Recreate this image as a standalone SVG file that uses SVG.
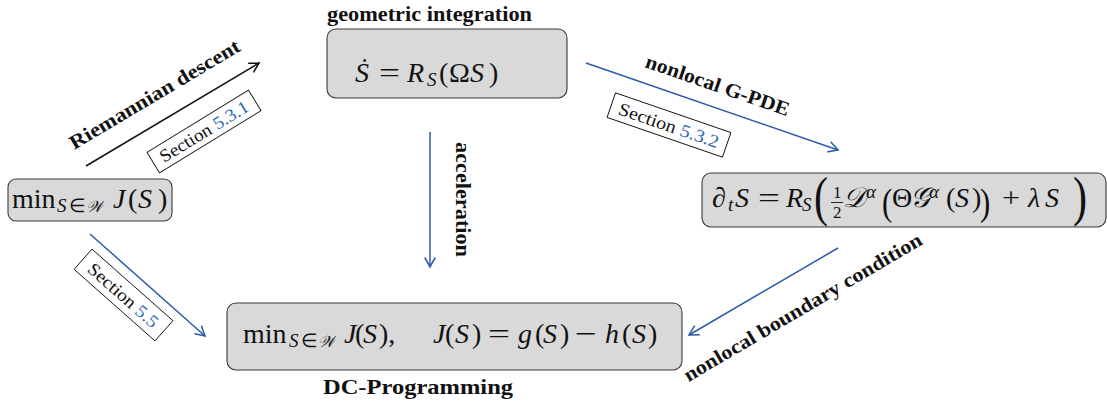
<svg xmlns="http://www.w3.org/2000/svg" width="1107" height="403" viewBox="0 0 1107 403">
<style>
  .box{fill:#d9d9d9;stroke:#3a3a3a;stroke-width:1.1}
  .math{font-family:"Liberation Serif",serif;font-size:28px;fill:#111}
  .it{font-style:italic}
  .sc{font-size:19px}
  .fr{font-size:17px}
  .cal{font-family:"DejaVu Serif",serif;font-style:italic}
  .calsub{font-size:16px}
  .lbl{font-family:"Liberation Serif",serif;font-weight:bold;font-size:20px;fill:#111}
  .sec{font-family:"Liberation Serif",serif;font-size:18px;fill:#111}
  .num{fill:#2e67b8}
  .tag{fill:#fff;stroke:#111;stroke-width:0.9}
  .edge{fill:none;stroke-width:1.5}
  .blue{stroke:#2c5aa8}
  .black{stroke:#111}
</style>
<defs>
  <marker id="headBlue" markerUnits="userSpaceOnUse" markerWidth="14" markerHeight="14" viewBox="-11 -7 14 14" refX="0" refY="0" orient="auto" overflow="visible">
    <path d="M -9 -5 Q -3 -1.5 0 0 Q -3 1.5 -9 5" fill="none" stroke="#2c5aa8" stroke-width="1.5" stroke-linecap="round"/>
  </marker>
  <marker id="headBlack" markerUnits="userSpaceOnUse" markerWidth="14" markerHeight="14" viewBox="-11 -7 14 14" refX="0" refY="0" orient="auto" overflow="visible">
    <path d="M -9 -5 Q -3 -1.5 0 0 Q -3 1.5 -9 5" fill="none" stroke="#111" stroke-width="1.5" stroke-linecap="round"/>
  </marker>
</defs>

<!-- connectors with their labels -->
<g id="connectors">
  <path class="edge black" d="M86 166 L259 63" marker-end="url(#headBlack)"/>
  <path class="edge blue" d="M586 63 L838 150" marker-end="url(#headBlue)"/>
  <path class="edge blue" d="M430 132 L430 267" marker-end="url(#headBlue)"/>
  <path class="edge blue" d="M90 234 L205 336" marker-end="url(#headBlue)"/>
  <path class="edge blue" d="M838 248 L689 335" marker-end="url(#headBlue)"/>

  <text class="lbl" transform="translate(158,100) rotate(-30.8)" text-anchor="middle" textLength="195" lengthAdjust="spacingAndGlyphs">Riemannian descent</text>
  <text class="lbl" transform="translate(715.5,91.5) rotate(19)" text-anchor="middle" textLength="151" lengthAdjust="spacingAndGlyphs">nonlocal G-PDE</text>
  <text class="lbl" transform="translate(456,199.5) rotate(90)" text-anchor="middle" textLength="115" lengthAdjust="spacingAndGlyphs">acceleration</text>
  <text class="lbl" transform="translate(806,313) rotate(-30.5)" text-anchor="middle" textLength="273" lengthAdjust="spacingAndGlyphs">nonlocal boundary condition</text>

  <g transform="translate(204,131.5) rotate(-31.5)">
    <rect class="tag" x="-59.5" y="-12" width="119" height="24"/>
    <text class="sec" x="0" y="6" text-anchor="middle" textLength="101" lengthAdjust="spacingAndGlyphs">Section <tspan class="num">5.3.1</tspan></text>
  </g>
  <g transform="translate(669,125) rotate(19)">
    <rect class="tag" x="-61" y="-13" width="122" height="26"/>
    <text class="sec" x="0" y="6.5" text-anchor="middle" textLength="105" lengthAdjust="spacingAndGlyphs">Section <tspan class="num">5.3.2</tspan></text>
  </g>
  <g transform="translate(123.5,295) rotate(41.5)">
    <rect class="tag" x="-54" y="-13.5" width="108" height="27"/>
    <text class="sec" x="0" y="6.5" text-anchor="middle" textLength="88" lengthAdjust="spacingAndGlyphs">Section <tspan class="num">5.5</tspan></text>
  </g>
</g>

<!-- variational problem -->
<g id="objective">
  <rect class="box" x="8" y="179" width="164" height="42" rx="8"/>
  <text class="math">
    <tspan x="12" y="208">min</tspan>
    <tspan class="sc it" x="57" y="212">S</tspan>
    <tspan class="sc" x="69" y="212">∈</tspan>
    <tspan class="cal calsub" x="86" y="212">𝒲</tspan>
    <tspan class="it" x="113" y="208">J</tspan>
    <tspan x="128" y="208">(</tspan>
    <tspan class="it" x="138" y="208">S</tspan>
    <tspan x="158" y="208">)</tspan>
  </text>
</g>

<!-- geometric integration -->
<g id="integration">
  <text class="lbl" x="327" y="20.5" textLength="205" lengthAdjust="spacingAndGlyphs">geometric integration</text>
  <rect class="box" x="327" y="29" width="240" height="69" rx="9"/>
  <text class="math">
    <tspan class="it" x="355" y="82">Ṡ</tspan>
    <tspan x="379" y="82" textLength="21" lengthAdjust="spacingAndGlyphs">=</tspan>
    <tspan class="it" x="407" y="82">R</tspan>
    <tspan class="sc it" x="427" y="86">S</tspan>
    <tspan x="439" y="82">(</tspan>
    <tspan x="449" y="82">Ω</tspan>
    <tspan class="it" x="470" y="82">S</tspan>
    <tspan x="489" y="82">)</tspan>
  </text>
</g>

<!-- nonlocal G-PDE -->
<g id="gpde">
  <rect class="box" x="702" y="173" width="404" height="54" rx="9"/>
  <text class="math">
    <tspan class="it" x="712" y="207">∂</tspan>
    <tspan class="sc it" x="728" y="211">t</tspan>
    <tspan class="it" x="735" y="207">S</tspan>
    <tspan x="758" y="207" textLength="22" lengthAdjust="spacingAndGlyphs">=</tspan>
    <tspan class="it" x="786" y="207">R</tspan>
    <tspan class="sc it" x="802" y="211">S</tspan>
    <tspan class="fr" x="833" y="198">1</tspan>
    <tspan class="fr" x="833" y="218">2</tspan>
    <tspan class="cal" x="843" y="207">𝒟</tspan>
    <tspan class="sc it" x="866" y="198">α</tspan>
    <tspan x="892" y="207">Θ</tspan>
    <tspan class="cal" x="910" y="207">𝒢</tspan>
    <tspan class="sc it" x="929" y="198">α</tspan>
    <tspan x="946" y="207">(</tspan>
    <tspan class="it" x="955" y="207">S</tspan>
    <tspan x="972" y="207">)</tspan>
    <tspan x="1002" y="207" textLength="18" lengthAdjust="spacingAndGlyphs">+</tspan>
    <tspan class="it" x="1028" y="207">λ</tspan>
    <tspan class="it" x="1045" y="207">S</tspan>
  </text>
  <line x1="831" y1="202.5" x2="843" y2="202.5" stroke="#111" stroke-width="0.9"/>
  <text class="math" transform="translate(814,215) scale(1.5,1.95)">(</text>
  <text class="math" transform="translate(1073,215) scale(1.5,1.95)">)</text>
  <text class="math" transform="translate(882,214.6) scale(1.1,1.37)">(</text>
  <text class="math" transform="translate(980,214.6) scale(1.1,1.37)">)</text>
</g>

<!-- DC programming -->
<g id="dc">
  <rect class="box" x="227" y="303" width="455" height="67" rx="9"/>
  <text class="math">
    <tspan x="243" y="343">min</tspan>
    <tspan class="sc it" x="289" y="347">S</tspan>
    <tspan class="sc" x="301" y="347">∈</tspan>
    <tspan class="cal calsub" x="318" y="347">𝒲</tspan>
    <tspan class="it" x="344" y="343">J</tspan>
    <tspan x="355" y="343">(</tspan>
    <tspan class="it" x="363" y="343">S</tspan>
    <tspan x="379" y="343">),</tspan>
    <tspan class="it" x="433" y="343">J</tspan>
    <tspan x="445" y="343">(</tspan>
    <tspan class="it" x="455" y="343">S</tspan>
    <tspan x="472" y="343">)</tspan>
    <tspan x="488" y="343" textLength="22" lengthAdjust="spacingAndGlyphs">=</tspan>
    <tspan class="it" x="518" y="343">g</tspan>
    <tspan x="535" y="343">(</tspan>
    <tspan class="it" x="543" y="343">S</tspan>
    <tspan x="560" y="343">)</tspan>
    <tspan x="575" y="343" textLength="22" lengthAdjust="spacingAndGlyphs">−</tspan>
    <tspan class="it" x="605" y="343">h</tspan>
    <tspan x="622" y="343">(</tspan>
    <tspan class="it" x="632" y="343">S</tspan>
    <tspan x="648" y="343">)</tspan>
  </text>
  <text class="lbl" x="323" y="394" textLength="190" lengthAdjust="spacingAndGlyphs">DC-Programming</text>
</g>
</svg>
